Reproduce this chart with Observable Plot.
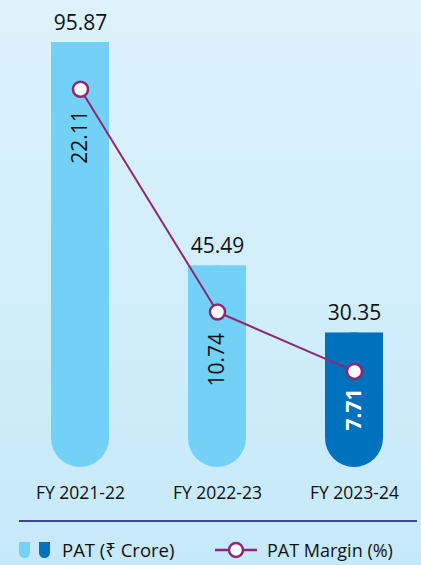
<!DOCTYPE html>
<html>
<head>
<meta charset="utf-8">
<script src="https://cdn.jsdelivr.net/npm/d3@7"></script>
<script src="https://cdn.jsdelivr.net/npm/@observablehq/plot@0.6"></script>
<style>
  html, body { margin: 0; padding: 0; }
  body {
    width: 421px; height: 565px; overflow: hidden; position: relative;
    background: linear-gradient(#ddf3fc, #c6e9f9);
    font-family: "Open Sans", "Noto Sans", sans-serif; color: #111;
  }
  #chart { position: absolute; left: 0; top: 0; }
  #sep { position: absolute; left: 19px; top: 520px; width: 398px; height: 1.5px; background: #3c4494; }
  .leg { position: absolute; top: 540px; font-size: 18.5px; line-height: 20px; display: flex; align-items: center; }
  .sw { display: inline-block; width: 11px; height: 16px; border-radius: 0 0 6px 6px; margin-right: 9px; }
</style>
</head>
<body>
<div id="chart"></div>
<div id="sep"></div>
<div class="leg" style="left:19px">
  <span class="sw" style="background:#73d0f6"></span><span class="sw" style="background:#0071bc;margin-right:12px"></span><span>PAT (₹ Crore)</span>
</div>
<div class="leg" style="left:215px">
  <svg width="44" height="20" style="margin-right:8px"><line x1="0" x2="42" y1="10" y2="10" stroke="#8e2873" stroke-width="2.5"/><circle cx="21" cy="10" r="7" fill="#fff" stroke="#8e2873" stroke-width="2.5"/></svg><span style="font-size:18px">PAT Margin (%)</span>
</div>
<script>
const years = ["FY 2021-22", "FY 2022-23", "FY 2023-24"];
const pat = [95.87, 45.49, 30.35];
const patMargin = [22.11, 10.74, 7.71];

const light = "#73d0f6", dark = "#0071bc", purple = "#8e2873";
const latest = years[years.length - 1];

// secondary axis for PAT Margin (%) mapped onto the PAT scale
const marginAxis = d3.scaleLinear([0, 25], [-12.4, 98.1]);

const data = years.map((year, i) => ({
  year, pat: pat[i], margin: patMargin[i], my: marginAxis(patMargin[i])
}));
const fill = d => d.year === latest ? dark : light;
const older = data.filter(d => d.year !== latest);
const newest = data.filter(d => d.year === latest);

const rotated = {
  x: "year", y: "my", text: d => d.margin.toFixed(2), rotate: -90, textAnchor: "end", lineAnchor: "middle",
  dy: 21, fontSize: 21
};

const chart = Plot.plot({
  width: 421, height: 512,
  marginLeft: 51, marginRight: 38, marginTop: 42, marginBottom: 45,
  style: { background: "transparent", fontFamily: "'Open Sans', 'Noto Sans', sans-serif", color: "#111", overflow: "visible" },
  x: { domain: years, paddingInner: 0.577, paddingOuter: 0, label: null },
  y: { domain: [0, 95.87], axis: null },
  marks: [
    Plot.barY(data, { x: "year", y: "pat", fill, rx: 29, ry: 29 }),
    Plot.barY(data, { x: "year", y1: d => d.pat / 2, y2: "pat", fill }),
    Plot.axisX({ tickSize: 0, tickPadding: 19, fontSize: 17.5, label: null, fill: "#111" }),
    Plot.text(data, { x: "year", y: "pat", text: d => d.pat.toFixed(2), dy: -13, lineAnchor: "bottom", fontSize: 21, fill: "#111" }),
    Plot.line(data, { x: "year", y: "my", stroke: purple, strokeWidth: 2 }),
    Plot.dot(data, { x: "year", y: "my", r: 7.5, fill: "#fff", stroke: purple, strokeWidth: 2.5 }),
    Plot.text(older, { ...rotated, fill: "#111" }),
    Plot.text(newest, { ...rotated, fill: "#fff", fontWeight: "bold", dy: 17 })
  ]
});
document.getElementById("chart").append(chart);
</script>
</body>
</html>
